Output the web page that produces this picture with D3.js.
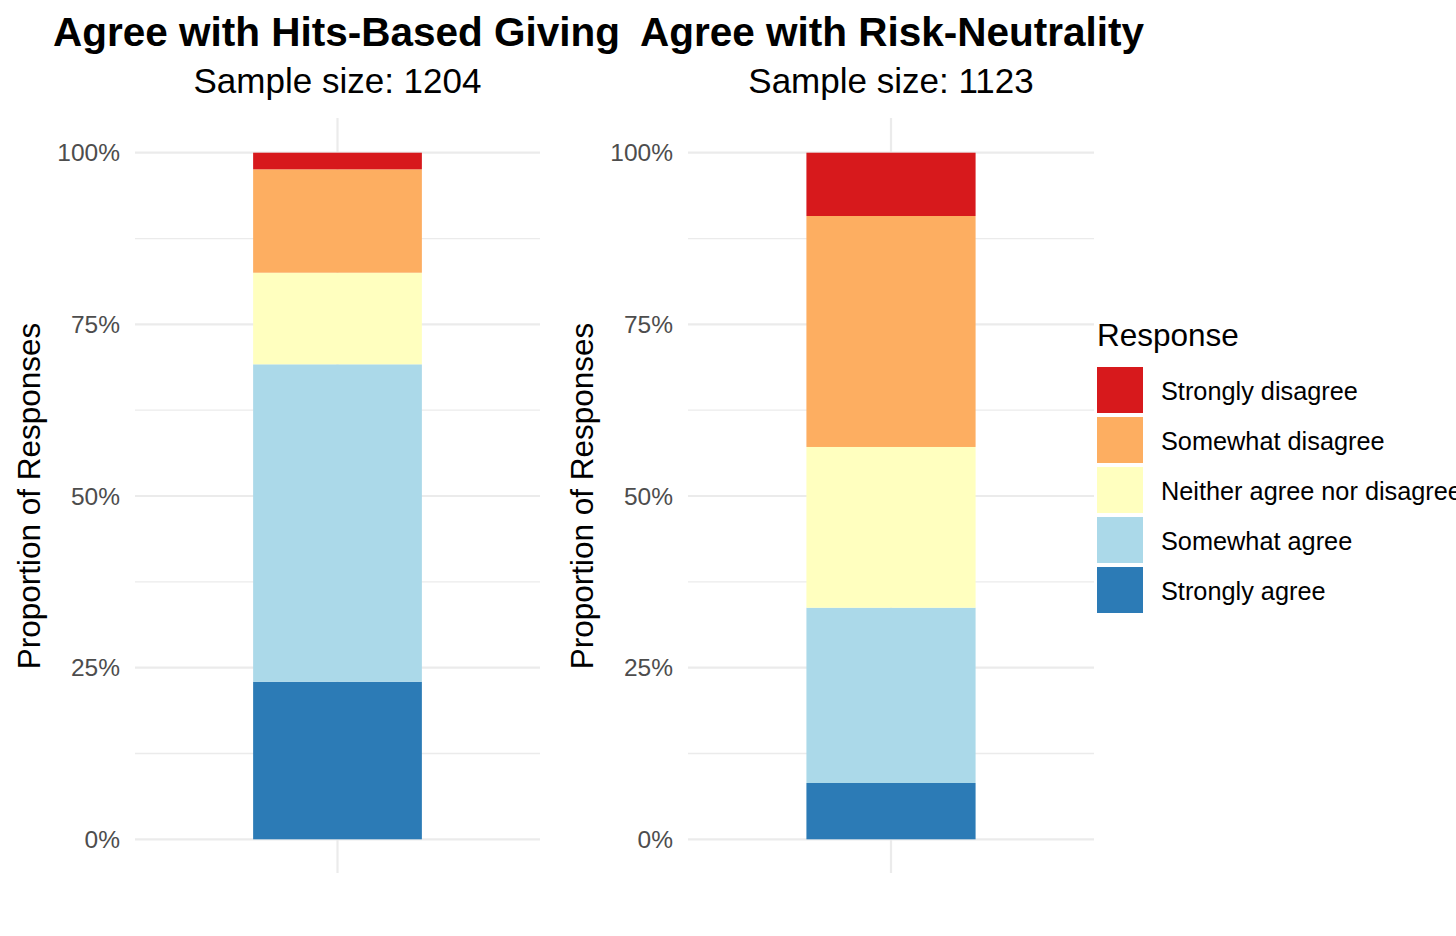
<!DOCTYPE html>
<html><head><meta charset="utf-8">
<script src="https://cdn.jsdelivr.net/npm/d3@7"></script>
<style>body{margin:0;background:#fff}svg{display:block}text{font-family:"Liberation Sans",Arial,sans-serif}</style>
</head><body>
<svg id="c" width="1456" height="936"></svg>
<script>
const responses = ["Strongly disagree","Somewhat disagree","Neither agree nor disagree","Somewhat agree","Strongly agree"];
const colors = ["#d7191c","#fdae61","#ffffbf","#abd9e9","#2c7bb6"];
const titles = ["Agree with Hits-Based Giving","Agree with Risk-Neutrality"];
const sampleSizes = [1204, 1123];
// proportions in order: Strongly agree (bottom) ... Strongly disagree (top)
const hitsValues = [0.2295, 0.4623, 0.1334, 0.1506, 0.0242];
const riskValues = [0.0820, 0.2553, 0.2341, 0.3364, 0.0922];
const yTicks = [0, 0.25, 0.5, 0.75, 1];
const yMinor = [0.125, 0.375, 0.625, 0.875];

const svg = d3.select("#c");
const panels = [
  {title: titles[0], n: sampleSizes[0], vals: hitsValues, x0: 135, x1: 540, titleX: 53},
  {title: titles[1], n: sampleSizes[1], vals: riskValues, x0: 688, x1: 1094, titleX: 640}
];
const stackOrder = responses.slice().reverse(); // bottom to top
const color = d3.scaleOrdinal().domain(responses).range(colors);
const y = d3.scaleLinear().domain([0,1]).range([839.3,152.7]);

panels.forEach(p => {
  const g = svg.append("g");
  const bw = (p.x1 - p.x0) * 0.9 / 2.16;
  const cx = (p.x0 + p.x1) / 2;
  g.selectAll(".minor").data(yMinor).join("line")
    .attr("x1", p.x0).attr("x2", p.x1).attr("y1", d=>y(d)).attr("y2", d=>y(d))
    .attr("stroke","#ebebeb").attr("stroke-width",1.3);
  g.selectAll(".major").data(yTicks).join("line")
    .attr("x1", p.x0).attr("x2", p.x1).attr("y1", d=>y(d)).attr("y2", d=>y(d))
    .attr("stroke","#ebebeb").attr("stroke-width",2.2);
  g.append("line").attr("x1",cx).attr("x2",cx).attr("y1",118).attr("y2",873)
    .attr("stroke","#ebebeb").attr("stroke-width",2.2);
  let cum = 0;
  const segs = stackOrder.map((r,i) => { const s = {r, y0: cum, y1: cum + p.vals[i]}; cum += p.vals[i]; return s; });
  g.selectAll("rect").data(segs).join("rect")
    .attr("x", cx - bw/2).attr("width", bw)
    .attr("y", d=>y(d.y1)).attr("height", d=>y(d.y0)-y(d.y1))
    .attr("fill", d=>color(d.r));
  g.selectAll(".tl").data(yTicks).join("text")
    .attr("x", p.x0 - 15).attr("y", d=>y(d)).attr("dy","0.35em")
    .attr("text-anchor","end").attr("font-size",24.5).attr("fill","#4d4d4d")
    .text(d=>d3.format(".0%")(d));
  g.append("text").attr("transform",`translate(${p.x0-95},496) rotate(-90)`)
    .attr("text-anchor","middle").attr("font-size",31.5).attr("fill","#000")
    .text("Proportion of Responses");
  g.append("text").attr("x", p.titleX).attr("y",46).attr("font-size",40.5).attr("font-weight","bold")
    .text(p.title);
  g.append("text").attr("x", cx).attr("y",93).attr("text-anchor","middle").attr("font-size",35)
    .text("Sample size: " + p.n);
});

const lg = svg.append("g");
lg.append("text").attr("x",1097).attr("y",346).attr("font-size",31.5).text("Response");
const items = lg.selectAll(".it").data(responses).join("g")
  .attr("transform",(d,i)=>`translate(1097,${367 + i*50})`);
items.append("rect").attr("width",46).attr("height",46).attr("fill",d=>color(d));
items.append("text").attr("x",64).attr("y",24).attr("dy","0.35em").attr("font-size",25.3).text(d=>d);
</script>
</body></html>
